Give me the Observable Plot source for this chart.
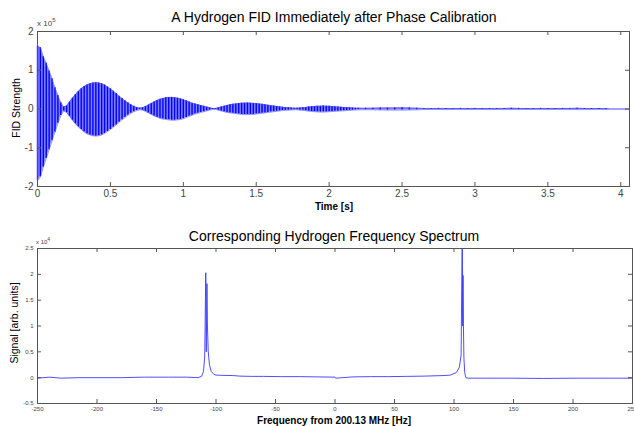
<!DOCTYPE html>
<html><head><meta charset="utf-8">
<script src="https://cdn.jsdelivr.net/npm/d3@7"></script>
<script src="https://cdn.jsdelivr.net/npm/@observablehq/plot@0.6"></script>
<style>
html,body{margin:0;padding:0;background:#fff;}
#chart{position:relative;width:634px;height:426px;overflow:hidden;font-family:"Liberation Sans",Arial,Helvetica,sans-serif;color:#000;}
.t{position:absolute;white-space:nowrap;line-height:1;}
#chart svg{position:absolute;left:0;}
</style></head><body><div id="chart"></div>
<script>
// ---- FID (units of 1e5), envelope ----
const fidTime = [
0,0.02,0.04,0.06,0.08,0.1,0.12,0.14,0.16,0.18,
0.2,0.22,0.24,0.26,0.28,0.3,0.32,0.34,0.36,0.38,
0.4,0.42,0.44,0.46,0.48,0.5,0.52,0.54,0.56,0.58,
0.6,0.62,0.64,0.66,0.68,0.7,0.72,0.74,0.76,0.78,
0.8,0.82,0.84,0.86,0.88,0.9,0.92,0.94,0.96,0.98,
1,1.02,1.04,1.06,1.08,1.1,1.12,1.14,1.16,1.18,
1.2,1.22,1.24,1.26,1.28,1.3,1.32,1.34,1.36,1.38,
1.4,1.42,1.44,1.46,1.48,1.5,1.52,1.54,1.56,1.58,
1.6,1.62,1.64,1.66,1.68,1.7,1.72,1.74,1.76,1.78,
1.8,1.82,1.84,1.86,1.88,1.9,1.92,1.94,1.96,1.98,
2,2.02,2.04,2.06,2.08,2.1,2.12,2.14,2.16,2.18,
2.2,
2.25,2.3,2.35,2.4,2.45,2.5,2.55,2.6,2.65,2.7,
2.75,2.8,2.85,2.9,2.95,3,3.05,3.1,3.15,3.2,
3.25,3.3,3.35,3.4,3.45,3.5,3.55,3.6,3.65,3.7,
3.75,3.8,3.85,3.9,3.93,4.06];
const fidUpper = [
1.62,1.58,1.35,1.18,0.98,0.78,0.55,0.35,0.16,0.05,
0.08,0.18,0.28,0.37,0.45,0.52,0.58,0.62,0.65,0.67,
0.68,0.67,0.65,0.62,0.57,0.52,0.46,0.40,0.33,0.27,
0.21,0.16,0.11,0.07,0.04,0.02,0.03,0.06,0.10,0.14,
0.18,0.22,0.25,0.27,0.29,0.30,0.30,0.29,0.28,0.26,
0.24,0.21,0.18,0.15,0.13,0.11,0.09,0.07,0.05,0.03,
0.015,0.01,0.03,0.05,0.07,0.09,0.11,0.12,0.13,0.14,
0.15,0.15,0.155,0.15,0.145,0.14,0.13,0.12,0.11,0.10,
0.085,0.075,0.065,0.055,0.045,0.035,0.03,0.025,0.02,0.02,
0.025,0.03,0.04,0.05,0.06,0.065,0.07,0.07,0.075,0.07,
0.07,0.065,0.06,0.05,0.045,0.04,0.035,0.03,0.025,0.02,
0.02,
0.018,0.022,0.025,0.025,0.028,0.03,0.025,0.02,0.015,0.012,
0.015,0.015,0.012,0.015,0.012,0.015,0.012,0.012,0.015,0.015,
0.018,0.015,0.012,0.012,0.015,0.015,0.012,0.015,0.015,0.018,
0.015,0.012,0.01,0.01,0,0];
const fidLower = [
-1.85,-1.75,-1.50,-1.28,-1.05,-0.82,-0.60,-0.37,-0.17,-0.05,
-0.09,-0.19,-0.29,-0.38,-0.46,-0.53,-0.59,-0.64,-0.67,-0.69,
-0.70,-0.69,-0.67,-0.63,-0.58,-0.53,-0.47,-0.41,-0.34,-0.28,
-0.22,-0.16,-0.11,-0.07,-0.04,-0.02,-0.03,-0.06,-0.10,-0.14,
-0.18,-0.21,-0.24,-0.26,-0.27,-0.28,-0.29,-0.29,-0.28,-0.27,
-0.25,-0.22,-0.19,-0.16,-0.13,-0.11,-0.09,-0.07,-0.05,-0.03,
-0.015,-0.01,-0.03,-0.05,-0.07,-0.09,-0.10,-0.11,-0.12,-0.13,
-0.14,-0.145,-0.145,-0.14,-0.14,-0.13,-0.12,-0.11,-0.10,-0.09,
-0.08,-0.07,-0.06,-0.05,-0.04,-0.035,-0.03,-0.025,-0.02,-0.02,
-0.03,-0.035,-0.045,-0.055,-0.065,-0.07,-0.075,-0.08,-0.08,-0.075,
-0.07,-0.065,-0.06,-0.055,-0.05,-0.045,-0.04,-0.035,-0.03,-0.025,
-0.02,
-0.018,-0.02,-0.025,-0.028,-0.028,-0.028,-0.025,-0.02,-0.015,-0.012,
-0.012,-0.015,-0.012,-0.012,-0.015,-0.012,-0.012,-0.015,-0.012,-0.015,
-0.015,-0.015,-0.012,-0.015,-0.012,-0.015,-0.012,-0.012,-0.015,-0.015,
-0.015,-0.012,-0.01,-0.01,0,0];

// ---- Spectrum (units of 1e4) ----
const specFreq = [-250,-240,-230,-215,-200,-180,-160,-140,-125,-115,
-112,-110.5,-109.5,-108.6,-108.2,-107.6,-107.2,-106.5,-105.5,-104,
-102,-100,-95,-85,-80,-70,-60,-45,-30,-15,
0,0.5,15,30,45,60,75,90,97,102,
104.5,106,107,107.3,107.6,107.9,108.3,109,110,112,
130,150,175,200,225,250];
const specSignal = [-0.01,0.01,-0.01,0.0,0.0,0.0,0.01,0.01,0.01,0.0,
0.03,0.12,0.4,2.03,0.5,1.82,1.0,0.5,0.25,0.12,
0.07,0.05,0.045,0.04,0.03,0.025,0.025,0.02,0.02,0.015,
0.01,-0.01,0.015,0.02,0.02,0.025,0.03,0.04,0.05,0.1,
0.2,0.45,3.2,1.0,1.98,1.05,0.4,0.1,0.0,-0.01,
-0.01,-0.01,-0.015,-0.01,-0.01,-0.01];

const fidXTicks = [0,0.5,1,1.5,2,2.5,3,3.5,4];
const fidYTicks = [-2,-1,0,1,2];
const specXTicks = [-250,-200,-150,-100,-50,0,50,100,150,200,250];
const specYTicks = [-0.5,0,0.5,1,1.5,2,2.5];

const fid = fidTime.map((t,i)=>({t, hi: fidUpper[i], lo: fidLower[i]}));
const spec = specFreq.map((f,i)=>({f, s: specSignal[i]}));

const chart = document.getElementById("chart");
const W = 634, TK = 4, AX = "#555";
const fmt = d => String(d);
const font = '"Liberation Sans", Arial, Helvetica, sans-serif';

function ticks(fw, fh, xt, yt) {
  return [
    Plot.ruleX(xt, {stroke: AX, insetTop: fh - TK}),
    Plot.ruleX(xt, {stroke: AX, insetBottom: fh - TK}),
    Plot.ruleY(yt, {stroke: AX, insetRight: fw - TK}),
    Plot.ruleY(yt, {stroke: AX, insetLeft: fw - TK})
  ];
}

// Top plot
const m1 = {h: 220, t: 31, b: 34, l: 37, r: 5};
const fw1 = W - m1.l - m1.r, fh1 = m1.h - m1.t - m1.b;
const svg1 = Plot.plot({
  width: W, height: m1.h, marginTop: m1.t, marginBottom: m1.b, marginLeft: m1.l, marginRight: m1.r,
  style: {fontFamily: font, fontSize: "10px", color: "#333", background: "transparent"},
  x: {domain: [0, 4.06]}, y: {domain: [-2, 2]},
  marks: [
    Plot.areaY(fid, {x: "t", y1: "lo", y2: "hi", fill: "#8080ff"}),
    Plot.ruleX(fid, {x: "t", y1: "lo", y2: "hi", stroke: "#0000ff", strokeWidth: 1.4}),
    Plot.lineY(fid, {x: "t", y: "hi", stroke: "#4848ff", strokeWidth: 0.6}),
    Plot.lineY(fid, {x: "t", y: "lo", stroke: "#4848ff", strokeWidth: 0.6}),
    Plot.frame({stroke: AX}),
    ...ticks(fw1, fh1, fidXTicks, fidYTicks),
    Plot.axisX(fidXTicks, {tickSize: 0, tickPadding: 3, tickFormat: fmt, fontSize: 10, label: null, fill: "#444"}),
    Plot.axisY(fidYTicks, {tickSize: 0, tickPadding: 4, tickFormat: fmt, fontSize: 10, label: null, fill: "#444"})
  ]
});
svg1.style.top = "0px";
chart.appendChild(svg1);

// Bottom plot
const m2 = {h: 206, t: 28, b: 23, l: 37, r: 2};
const fw2 = W - m2.l - m2.r, fh2 = m2.h - m2.t - m2.b;
const svg2 = Plot.plot({
  width: W, height: m2.h, marginTop: m2.t, marginBottom: m2.b, marginLeft: m2.l, marginRight: m2.r,
  style: {fontFamily: font, fontSize: "6px", color: "#333", background: "transparent"},
  x: {domain: [-250, 250]}, y: {domain: [-0.5, 2.5]},
  marks: [
    Plot.line(spec, {x: "f", y: "s", stroke: "#3a3aff", strokeWidth: 0.9, clip: true}),
    Plot.frame({stroke: AX}),
    ...ticks(fw2, fh2, specXTicks, specYTicks),
    Plot.axisX(specXTicks, {tickSize: 0, tickPadding: 3, tickFormat: fmt, fontSize: 6, label: null, fill: "#444"}),
    Plot.axisY(specYTicks, {tickSize: 0, tickPadding: 4, tickFormat: fmt, fontSize: 6, label: null, fill: "#444"})
  ]
});
svg2.style.top = "220px";
chart.appendChild(svg2);

// Texts
function txt(html, css) {
  const d = document.createElement("div");
  d.className = "t";
  d.innerHTML = html;
  Object.assign(d.style, css);
  chart.appendChild(d);
  return d;
}
txt("A Hydrogen FID Immediately after Phase Calibration", {left: "334px", top: "10px", fontSize: "14px", transform: "translateX(-50%)"});
txt('x 10<span style="font-size:6px;position:relative;top:-4px;">5</span>', {left: "37px", top: "20px", fontSize: "8px", color: "#444"});
txt("FID Strength", {left: "16px", top: "108px", fontSize: "10.5px", transform: "translate(-50%,-50%) rotate(-90deg)"});
txt("Time [s]", {left: "334px", top: "202px", fontSize: "10px", fontWeight: "bold", transform: "translateX(-50%)"});
txt("Corresponding Hydrogen Frequency Spectrum", {left: "334px", top: "229px", fontSize: "14px", transform: "translateX(-50%)"});
txt('x 10<span style="font-size:5px;position:relative;top:-3px;">4</span>', {left: "36px", top: "239px", fontSize: "6px", color: "#444"});
txt("Signal [arb. units]", {left: "14px", top: "323px", fontSize: "10.5px", transform: "translate(-50%,-50%) rotate(-90deg)"});
txt("Frequency from 200.13 MHz [Hz]", {left: "334px", top: "415.5px", fontSize: "10px", fontWeight: "bold", transform: "translateX(-50%)"});
</script></body></html>
